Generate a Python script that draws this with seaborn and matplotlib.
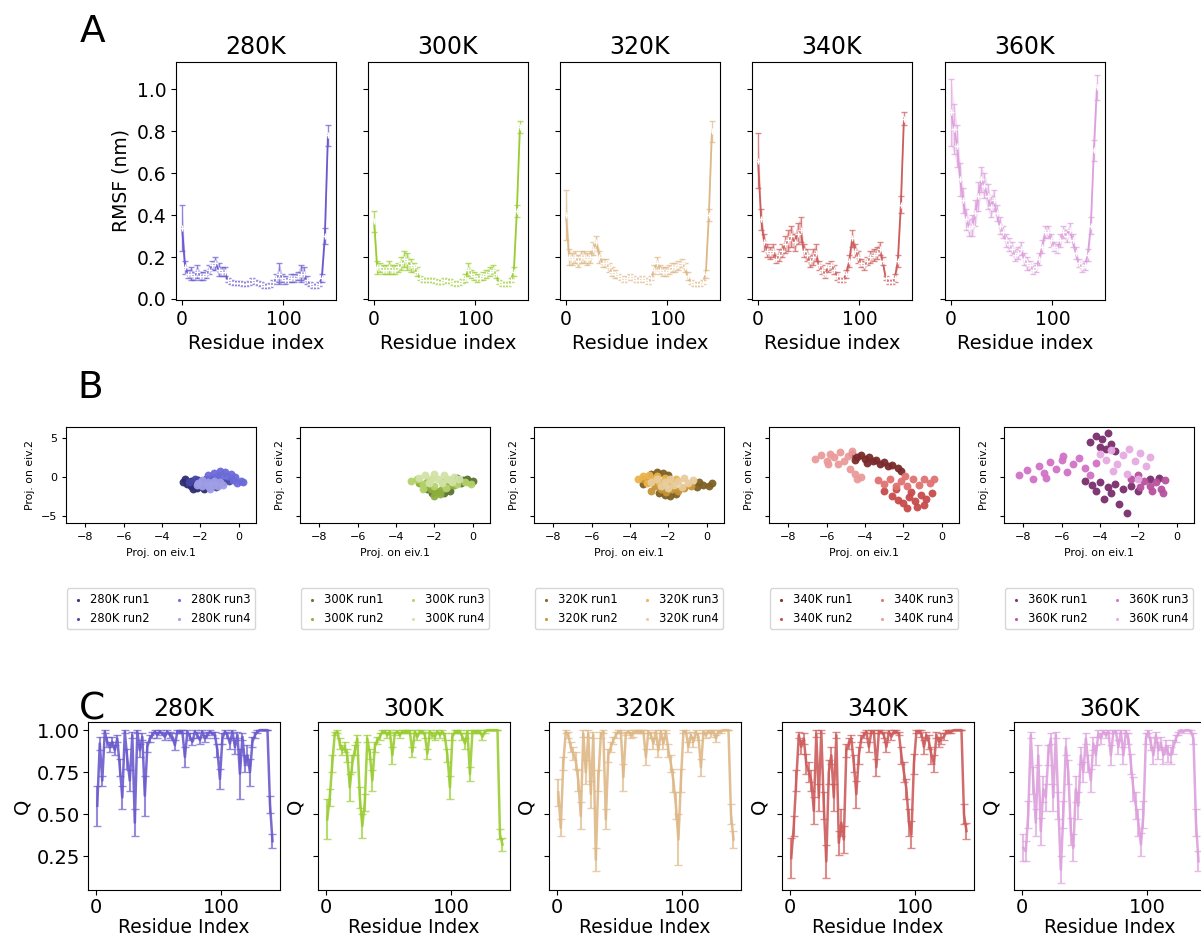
import numpy as np
import matplotlib
matplotlib.use("Agg")
import matplotlib.pyplot as plt
import seaborn as sns

temps = ["280K", "300K", "320K", "340K", "360K"]
base_colors = ["slateblue", "yellowgreen", "burlywood", "indianred", "plum"]
run_colors = [["#2e2e72", "#4646a6", "#6c6ad8", "#a09ee6"],
              ["#5c7232", "#8eae3e", "#b4d26a", "#d2e2a6"],
              ["#7e6024", "#c69434", "#eab44a", "#e8cc9c"],
              ["#7a2a2a", "#c84a4a", "#e07272", "#ea9a9a"],
              ["#7a2e6e", "#b8509e", "#d272c8", "#e6aae2"]]

# ---- panel A: RMSF per residue (every 3rd residue)
res_a = list(range(0, 145, 3))
rmsf_280 = [0.34, 0.15, 0.12, 0.12, 0.11, 0.13, 0.11, 0.11, 0.12, 0.14,
            0.16, 0.17, 0.14, 0.13, 0.13, 0.09, 0.08, 0.075, 0.075, 0.075,
            0.07, 0.07, 0.075, 0.09, 0.08, 0.075, 0.07, 0.06, 0.06, 0.065,
            0.08, 0.10, 0.12, 0.10, 0.09, 0.09, 0.10, 0.10, 0.11, 0.12,
            0.12, 0.09, 0.07, 0.06, 0.06, 0.07, 0.10, 0.30, 0.78]
err_280 = [0.11, 0.03, 0.02, 0.03, 0.02, 0.03, 0.02, 0.02, 0.02, 0.02,
           0.02, 0.03, 0.03, 0.02, 0.02, 0.01, 0.01, 0.01, 0.01, 0.01,
           0.01, 0.01, 0.01, 0.01, 0.01, 0.01, 0.01, 0.01, 0.01, 0.01,
           0.01, 0.02, 0.05, 0.02, 0.02, 0.01, 0.02, 0.02, 0.02, 0.04,
           0.03, 0.02, 0.01, 0.01, 0.01, 0.01, 0.02, 0.04, 0.05]
rmsf_300 = [0.37, 0.15, 0.15, 0.14, 0.14, 0.15, 0.14, 0.14, 0.15, 0.17,
            0.19, 0.18, 0.16, 0.15, 0.13, 0.10, 0.09, 0.09, 0.09, 0.09,
            0.085, 0.08, 0.08, 0.09, 0.085, 0.085, 0.075, 0.07, 0.075, 0.085,
            0.10, 0.14, 0.12, 0.11, 0.10, 0.10, 0.11, 0.12, 0.13, 0.14,
            0.12, 0.08, 0.07, 0.07, 0.07, 0.09, 0.13, 0.42, 0.82]
err_300 = [0.05, 0.03, 0.02, 0.02, 0.02, 0.03, 0.02, 0.02, 0.02, 0.03,
           0.04, 0.04, 0.03, 0.02, 0.02, 0.01, 0.01, 0.01, 0.01, 0.01,
           0.01, 0.01, 0.01, 0.01, 0.01, 0.01, 0.01, 0.01, 0.01, 0.01,
           0.02, 0.03, 0.02, 0.02, 0.02, 0.01, 0.02, 0.02, 0.02, 0.02,
           0.02, 0.01, 0.01, 0.01, 0.01, 0.01, 0.02, 0.03, 0.03]
rmsf_320 = [0.40, 0.20, 0.19, 0.20, 0.18, 0.20, 0.20, 0.19, 0.20, 0.24,
            0.27, 0.20, 0.17, 0.17, 0.15, 0.13, 0.12, 0.11, 0.10, 0.09,
            0.10, 0.11, 0.10, 0.09, 0.09, 0.10, 0.09, 0.08, 0.10, 0.14,
            0.17, 0.14, 0.13, 0.13, 0.14, 0.15, 0.15, 0.16, 0.17, 0.15,
            0.11, 0.08, 0.07, 0.07, 0.07, 0.08, 0.12, 0.40, 0.80]
err_320 = [0.12, 0.04, 0.03, 0.03, 0.03, 0.03, 0.03, 0.03, 0.03, 0.03,
           0.03, 0.03, 0.02, 0.02, 0.02, 0.02, 0.02, 0.01, 0.01, 0.01,
           0.01, 0.01, 0.01, 0.01, 0.01, 0.01, 0.01, 0.01, 0.01, 0.02,
           0.03, 0.02, 0.02, 0.02, 0.02, 0.02, 0.02, 0.02, 0.02, 0.02,
           0.02, 0.01, 0.01, 0.01, 0.01, 0.01, 0.02, 0.03, 0.05]
rmsf_340 = [0.66, 0.38, 0.27, 0.23, 0.22, 0.23, 0.19, 0.21, 0.23, 0.26,
            0.28, 0.30, 0.27, 0.31, 0.33, 0.23, 0.21, 0.18, 0.20, 0.22,
            0.16, 0.14, 0.12, 0.15, 0.16, 0.14, 0.11, 0.09, 0.09, 0.12,
            0.18, 0.29, 0.23, 0.20, 0.17, 0.16, 0.18, 0.20, 0.21, 0.22,
            0.24, 0.18, 0.10, 0.08, 0.08, 0.10, 0.18, 0.45, 0.86]
err_340 = [0.13, 0.05, 0.04, 0.03, 0.03, 0.03, 0.02, 0.03, 0.03, 0.04,
           0.05, 0.05, 0.04, 0.05, 0.06, 0.03, 0.03, 0.03, 0.04, 0.04,
           0.02, 0.02, 0.02, 0.02, 0.02, 0.02, 0.02, 0.01, 0.01, 0.02,
           0.03, 0.04, 0.03, 0.03, 0.02, 0.02, 0.02, 0.03, 0.03, 0.03,
           0.03, 0.02, 0.01, 0.01, 0.01, 0.02, 0.03, 0.04, 0.03]
rmsf_360 = [0.89, 0.81, 0.73, 0.57, 0.47, 0.38, 0.34, 0.35, 0.41, 0.49,
            0.57, 0.54, 0.49, 0.44, 0.47, 0.41, 0.35, 0.32, 0.28, 0.26,
            0.24, 0.21, 0.22, 0.24, 0.19, 0.17, 0.16, 0.14, 0.15, 0.19,
            0.25, 0.32, 0.32, 0.28, 0.25, 0.24, 0.28, 0.32, 0.30, 0.33,
            0.28, 0.22, 0.17, 0.15, 0.16, 0.21, 0.35, 0.71, 1.01]
err_360 = [0.16, 0.12, 0.10, 0.08, 0.06, 0.05, 0.04, 0.05, 0.06, 0.07,
           0.06, 0.06, 0.06, 0.05, 0.05, 0.04, 0.04, 0.03, 0.03, 0.03,
           0.03, 0.03, 0.03, 0.03, 0.03, 0.03, 0.02, 0.02, 0.02, 0.03,
           0.03, 0.03, 0.03, 0.03, 0.02, 0.02, 0.03, 0.03, 0.03, 0.03,
           0.03, 0.03, 0.02, 0.02, 0.02, 0.03, 0.04, 0.05, 0.06]
rmsf_all = [rmsf_280, rmsf_300, rmsf_320, rmsf_340, rmsf_360]
rmsf_err = [err_280, err_300, err_320, err_340, err_360]

# ---- panel B: projections on eigenvectors 1 and 2 (x, y) per run
pts_280 = [
    [(-2.9, -0.6), (-2.7, -0.9), (-2.5, -0.5), (-2.5, -1.2), (-2.3, -0.8), (-2.2, -1.4), (-2.1, -0.4),
     (-2.0, -1.1), (-1.8, -1.5), (-1.6, -1.3), (-2.8, -0.2), (-2.4, -1.5)],
    [(-2.6, -0.7), (-2.3, -0.3), (-2.0, -0.6), (-1.7, -0.2), (-1.4, -0.1), (-1.1, -0.3), (-0.8, -0.6),
     (-0.5, -0.5), (-1.9, -1.0), (-1.2, -1.3)],
    [(-1.6, 0.3), (-1.3, 0.5), (-1.0, 0.7), (-0.7, 0.6), (-0.4, 0.4), (-0.2, 0.0), (0.1, -0.5),
     (-0.3, -0.4), (-0.6, 0.1), (-0.9, 0.2), (-1.2, 0.0), (0.2, -0.7), (-0.1, -0.8)],
    [(-2.1, -0.8), (-1.9, -0.4), (-1.9, -1.2), (-1.6, -0.6), (-1.6, -1.1), (-1.3, -0.5), (-1.3, -1.0),
     (-1.0, -0.7), (-0.8, -1.0), (-2.2, -1.0), (-1.1, -1.2), (-1.5, -1.5)]]
pts_300 = [
    [(-0.8, -0.1), (-0.5, -0.4), (-0.3, -0.3), (-1.0, -0.5), (-0.6, -0.8), (-0.2, -0.6), (0.0, -0.5),
     (-1.8, -1.9), (-1.5, -2.1), (-2.1, -2.0), (-1.2, -1.8), (-2.4, -1.6)],
    [(-2.8, -0.8), (-2.5, -1.3), (-2.2, -1.6), (-1.9, -1.8), (-1.6, -1.6), (-1.3, -1.2), (-1.0, -1.0),
     (-2.4, -0.6), (-1.7, -2.2), (-2.0, -2.4)],
    [(-3.2, -0.5), (-2.9, -0.2), (-2.6, -0.9), (-2.3, -0.4), (-2.0, -1.1), (-1.6, -0.7), (-1.2, -0.4),
     (-0.8, -0.9), (-0.4, -0.7), (-0.1, -0.9), (-1.4, -1.4), (-2.6, -1.6)],
    [(-2.8, -0.1), (-2.5, 0.3), (-2.2, -0.3), (-2.0, 0.4), (-1.8, -0.2), (-1.5, 0.3), (-1.3, -0.3),
     (-1.0, 0.0), (-0.7, -0.3), (-2.3, -0.8), (-1.6, -0.8), (-1.1, -0.6)]]
pts_320 = [
    [(-2.9, 0.4), (-2.6, 0.6), (-2.3, 0.5), (-2.0, 0.2), (-0.4, -0.6), (-0.2, -1.0), (0.1, -1.2),
     (-0.5, -1.3), (-2.2, -2.3), (-1.9, -2.5), (-2.5, -2.0), (-1.6, -2.2), (-3.3, -0.9), (0.3, -0.8)],
    [(-3.0, -0.6), (-2.7, -1.2), (-2.4, -1.6), (-2.1, -1.9), (-1.8, -1.5), (-1.2, -1.4), (-0.8, -1.1),
     (-1.5, -1.8), (-3.3, -0.2), (-2.9, -1.8)],
    [(-3.6, -0.3), (-3.3, 0.1), (-3.0, 0.3), (-2.8, -0.2), (-2.5, -0.6), (-2.2, -0.1), (-1.9, -0.7),
     (-3.1, -0.8), (-2.6, 0.1), (-1.6, -0.2)],
    [(-2.9, -0.7), (-2.6, -0.3), (-2.4, -1.1), (-2.2, -0.6), (-1.9, -0.2), (-1.7, -1.0), (-1.5, -0.5),
     (-1.2, -0.1), (-1.0, -0.8), (-0.7, -0.4), (-2.0, -1.4), (-1.3, -1.3)]]
pts_340 = [
    [(-4.7, 2.9), (-4.4, 2.6), (-4.2, 2.8), (-4.0, 2.3), (-3.8, 2.5), (-3.6, 2.0), (-3.4, 2.2),
     (-3.2, 1.7), (-3.0, 1.9), (-2.8, 1.4), (-2.6, 1.5), (-2.3, 1.1), (-4.5, 2.2), (-3.9, 1.8), (-2.1, 0.8)],
    [(-3.0, -1.8), (-2.6, -2.4), (-2.3, -2.9), (-2.0, -3.4), (-1.7, -2.6), (-1.4, -3.1), (-1.1, -2.3),
     (-0.8, -2.8), (-0.5, -2.1), (-1.3, -3.8), (-1.8, -4.0), (-0.9, -3.6), (-2.4, -1.6), (-1.6, -1.9)],
    [(-3.3, -0.4), (-3.0, -0.9), (-2.7, -0.3), (-2.4, -1.1), (-2.1, -0.5), (-1.8, -1.2), (-1.5, -0.3),
     (-1.2, -1.0), (-0.9, -0.2), (-0.6, -0.8), (-0.4, -0.3), (-1.9, 0.1)],
    [(-6.6, 2.3), (-6.3, 2.8), (-6.0, 2.1), (-5.8, 3.0), (-5.6, 2.5), (-5.3, 3.2), (-5.1, 2.0),
     (-4.9, 2.7), (-4.7, 3.3), (-5.4, 1.6), (-4.8, 1.0), (-4.5, 0.4), (-4.2, 0.0), (-4.4, -0.3), (-5.9, 1.7)]]
pts_360 = [
    [(-4.5, 4.5), (-4.2, 5.3), (-3.9, 4.8), (-3.6, 5.6), (-3.4, 4.2), (-3.7, 3.6), (-3.2, 3.3), (-4.0, 3.9),
     (-4.8, -0.5), (-4.4, -1.0), (-4.0, -0.6), (-3.6, -1.3), (-3.2, -0.9), (-2.8, -1.6), (-2.4, -1.1),
     (-2.0, -1.8), (-3.4, -2.0), (-4.2, -1.8), (-1.4, -0.3), (-0.9, -0.1), (-3.0, -3.5), (-3.8, -2.8),
     (-2.6, -4.6)],
    [(-2.4, -0.2), (-2.0, 0.3), (-1.7, -0.5), (-1.4, -1.1), (-1.1, -0.6), (-0.8, -1.5), (-0.6, -0.4),
     (-1.9, -1.3), (-1.3, -1.8), (-0.7, -2.0)],
    [(-8.2, 0.2), (-7.8, 0.9), (-7.5, -0.2), (-7.2, 1.4), (-6.9, 0.5), (-6.6, 1.9), (-6.3, 1.0),
     (-6.0, 2.2), (-5.7, 0.6), (-5.4, 1.6), (-5.1, 2.4), (-4.8, 1.2), (-4.5, 0.2), (-4.2, 1.8),
     (-6.8, -0.1), (-5.9, 2.7)],
    [(-4.0, 3.0), (-3.7, 2.2), (-3.4, 3.5), (-3.1, 1.6), (-2.8, 2.8), (-2.5, 3.6), (-2.2, 2.1),
     (-1.9, 3.1), (-1.6, 1.4), (-1.4, 2.6), (-3.3, 0.8), (-2.6, 0.4), (-2.0, -0.3)]]
pts_all = [pts_280, pts_300, pts_320, pts_340, pts_360]
run_names = ["run1", "run2", "run3", "run4"]

# ---- panel C: native contacts Q per residue (every 2nd residue)
res_c = list(range(1, 142, 2))
q_280 = [0.55, 0.92, 0.70, 0.99, 0.93, 0.90, 0.93, 0.88, 0.95, 0.78,
         0.60, 0.99, 0.83, 0.70, 0.97, 0.45, 0.99, 0.88, 0.96, 0.61,
         0.90, 0.95, 0.97, 0.99, 0.97, 0.99, 0.98, 0.96, 0.99, 0.97,
         0.96, 0.91, 0.99, 0.99, 0.99, 0.84, 0.99, 0.96, 0.93, 0.99,
         0.97, 0.94, 0.99, 0.95, 0.97, 0.99, 0.98, 0.97, 0.88, 0.71,
         0.95, 0.99, 0.97, 0.92, 0.99, 0.90, 0.97, 0.74, 0.96, 0.80,
         0.85, 0.75, 0.93, 0.97, 0.99, 1.00, 1.00, 1.00, 1.00, 0.56,
         0.34]
qerr_280 = [0.12, 0.04, 0.03, 0.01, 0.03, 0.03, 0.03, 0.03, 0.02, 0.05,
            0.07, 0.01, 0.06, 0.06, 0.02, 0.08, 0.01, 0.04, 0.02, 0.12,
            0.03, 0.02, 0.02, 0.01, 0.02, 0.01, 0.01, 0.02, 0.01, 0.02,
            0.02, 0.03, 0.01, 0.01, 0.01, 0.06, 0.01, 0.02, 0.02, 0.01,
            0.02, 0.02, 0.01, 0.02, 0.02, 0.01, 0.01, 0.02, 0.04, 0.06,
            0.03, 0.01, 0.02, 0.03, 0.01, 0.04, 0.02, 0.15, 0.02, 0.05,
            0.06, 0.08, 0.03, 0.02, 0.01, 0.00, 0.00, 0.00, 0.00, 0.05,
            0.04]
q_300 = [0.47, 0.60, 0.80, 0.98, 0.99, 0.92, 0.88, 0.90, 0.85, 0.66,
         0.80, 0.88, 0.95, 0.60, 0.43, 0.57, 0.95, 0.86, 0.70, 0.90,
         0.94, 0.96, 0.99, 0.99, 0.97, 0.99, 0.85, 0.98, 0.99, 0.97,
         0.99, 0.99, 0.99, 0.99, 0.87, 0.99, 0.96, 0.99, 0.99, 0.97,
         0.86, 0.99, 0.97, 0.96, 0.99, 0.97, 0.99, 0.96, 0.85, 0.66,
         0.96, 0.99, 0.99, 0.99, 0.96, 0.92, 0.99, 0.74, 0.99, 0.99,
         0.99, 0.99, 0.96, 0.99, 1.00, 1.00, 1.00, 1.00, 1.00, 0.38,
         0.32]
qerr_300 = [0.12, 0.05, 0.05, 0.01, 0.01, 0.03, 0.03, 0.03, 0.04, 0.08,
            0.05, 0.03, 0.02, 0.06, 0.07, 0.05, 0.02, 0.03, 0.06, 0.03,
            0.02, 0.02, 0.01, 0.01, 0.02, 0.01, 0.05, 0.01, 0.01, 0.02,
            0.01, 0.01, 0.01, 0.01, 0.03, 0.01, 0.02, 0.01, 0.01, 0.02,
            0.03, 0.01, 0.02, 0.02, 0.01, 0.02, 0.01, 0.02, 0.04, 0.07,
            0.02, 0.01, 0.01, 0.01, 0.02, 0.03, 0.01, 0.04, 0.01, 0.01,
            0.01, 0.01, 0.02, 0.01, 0.00, 0.00, 0.00, 0.00, 0.00, 0.03,
            0.04]
q_320 = [0.63, 0.42, 0.80, 0.99, 0.97, 0.90, 0.86, 0.82, 0.70, 0.49,
         0.98, 0.75, 0.98, 0.62, 0.97, 0.23, 0.70, 0.97, 0.99, 0.47,
         0.85, 0.90, 0.94, 0.97, 0.99, 0.99, 0.72, 0.98, 0.99, 0.97,
         0.98, 0.99, 0.99, 0.99, 0.99, 0.84, 0.99, 0.97, 0.92, 0.99,
         0.88, 0.99, 0.92, 0.99, 0.88, 0.80, 0.70, 0.55, 0.35, 0.70,
         0.99, 0.99, 0.90, 0.97, 0.93, 0.99, 0.96, 0.78, 0.99, 0.97,
         0.99, 0.98, 0.99, 0.95, 0.99, 0.99, 1.00, 1.00, 1.00, 0.50,
         0.35]
qerr_320 = [0.08, 0.05, 0.04, 0.01, 0.02, 0.03, 0.04, 0.05, 0.06, 0.08,
            0.02, 0.07, 0.02, 0.08, 0.02, 0.07, 0.06, 0.02, 0.01, 0.06,
            0.04, 0.03, 0.02, 0.02, 0.01, 0.01, 0.08, 0.01, 0.01, 0.02,
            0.02, 0.01, 0.01, 0.01, 0.01, 0.05, 0.01, 0.02, 0.03, 0.01,
            0.04, 0.01, 0.03, 0.01, 0.04, 0.05, 0.07, 0.08, 0.15, 0.07,
            0.01, 0.01, 0.03, 0.02, 0.03, 0.01, 0.02, 0.05, 0.01, 0.02,
            0.01, 0.02, 0.01, 0.02, 0.01, 0.01, 0.00, 0.00, 0.00, 0.06,
            0.05]
q_340 = [0.24, 0.43, 0.70, 0.97, 0.90, 0.95, 0.80, 0.75, 0.70, 0.52,
         0.98, 0.60, 0.99, 0.55, 0.22, 0.75, 0.85, 0.60, 0.97, 0.33,
         0.45, 0.35, 0.88, 0.92, 0.95, 0.80, 0.62, 0.85, 0.95, 0.97,
         0.99, 0.90, 0.99, 0.99, 0.78, 0.99, 0.99, 0.97, 0.90, 0.99,
         0.96, 0.99, 0.99, 0.98, 0.85, 0.75, 0.65, 0.45, 0.38, 0.80,
         0.99, 0.99, 0.98, 0.90, 0.97, 0.93, 0.85, 0.80, 0.97, 0.93,
         0.95, 0.96, 0.99, 0.99, 0.99, 1.00, 1.00, 1.00, 1.00, 0.50,
         0.40]
qerr_340 = [0.12, 0.06, 0.06, 0.02, 0.04, 0.03, 0.06, 0.06, 0.06, 0.08,
            0.02, 0.08, 0.01, 0.08, 0.10, 0.07, 0.05, 0.08, 0.02, 0.07,
            0.08, 0.08, 0.04, 0.03, 0.02, 0.05, 0.08, 0.05, 0.02, 0.02,
            0.01, 0.03, 0.01, 0.01, 0.05, 0.01, 0.01, 0.02, 0.03, 0.01,
            0.02, 0.01, 0.01, 0.01, 0.05, 0.06, 0.06, 0.08, 0.08, 0.06,
            0.01, 0.01, 0.02, 0.04, 0.02, 0.04, 0.05, 0.05, 0.02, 0.03,
            0.03, 0.02, 0.01, 0.01, 0.01, 0.00, 0.00, 0.00, 0.00, 0.06,
            0.05]
q_360 = [0.30, 0.28, 0.50, 0.97, 0.70, 0.45, 0.85, 0.40, 0.65, 0.60,
         0.85, 0.95, 0.60, 0.97, 0.55, 0.17, 0.50, 0.90, 0.75, 0.40,
         0.30, 0.65, 0.55, 0.85, 0.75, 0.95, 0.80, 0.70, 0.92, 0.85,
         0.98, 0.95, 0.99, 0.97, 0.99, 0.85, 0.99, 0.99, 0.90, 0.99,
         0.85, 0.99, 0.95, 0.80, 0.65, 0.55, 0.45, 0.32, 0.50, 0.95,
         0.99, 0.92, 0.85, 0.97, 0.88, 0.92, 0.85, 0.90, 0.86, 0.85,
         0.90, 0.95, 0.98, 1.00, 0.99, 1.00, 1.00, 0.99, 0.95, 0.45,
         0.22]
qerr_360 = [0.08, 0.06, 0.08, 0.02, 0.08, 0.08, 0.06, 0.08, 0.08, 0.08,
            0.06, 0.03, 0.08, 0.02, 0.08, 0.08, 0.08, 0.05, 0.07, 0.08,
            0.08, 0.08, 0.08, 0.05, 0.06, 0.03, 0.05, 0.07, 0.04, 0.06,
            0.02, 0.03, 0.01, 0.02, 0.01, 0.06, 0.01, 0.01, 0.04, 0.01,
            0.05, 0.01, 0.03, 0.06, 0.07, 0.08, 0.08, 0.07, 0.08, 0.03,
            0.01, 0.04, 0.05, 0.02, 0.05, 0.04, 0.05, 0.04, 0.05, 0.05,
            0.04, 0.02, 0.01, 0.00, 0.01, 0.00, 0.00, 0.01, 0.03, 0.08,
            0.06]
q_all = [q_280, q_300, q_320, q_340, q_360]
q_err = [qerr_280, qerr_300, qerr_320, qerr_340, qerr_360]

W, H = 1201, 940
fig = plt.figure(figsize=(W / 100, H / 100), dpi=100)


def box(left, top, width, height):
    return fig.add_axes([left / W, 1 - (top + height) / H, width / W, height / H])


# row A
a_left = [176, 368, 560, 752, 945]
for i, t in enumerate(temps):
    ax = box(a_left[i], 62, 160, 238)
    c = base_colors[i]
    y = np.array(rmsf_all[i])
    e = np.array(rmsf_err[i])
    ax.fill_between(res_a, y - e, y + e, color=c, alpha=0.3, lw=0)
    ax.errorbar(res_a, y, yerr=e, fmt="none", ecolor=c, elinewidth=1, capsize=2, alpha=0.7)
    sns.lineplot(x=res_a, y=y, ax=ax, color=c, lw=1.3, marker="+", markersize=4, mew=1)
    ax.set_xlim(-6, 152)
    ax.set_ylim(-0.005, 1.13)
    ax.set_yticks([0.0, 0.2, 0.4, 0.6, 0.8, 1.0])
    ax.set_xticks([0, 100])
    ax.set_title(t, fontsize=17)
    ax.set_xlabel("Residue index", fontsize=14)
    ax.tick_params(labelsize=13.5)
    if i == 0:
        ax.set_ylabel("RMSF (nm)", fontsize=13.5)
    else:
        ax.set_ylabel("")
        ax.set_yticklabels([])

# row B
b_left = [66, 300, 534, 769, 1004]
for i, t in enumerate(temps):
    ax = box(b_left[i], 427, 190, 96)
    for r in range(4):
        xs = [p[0] for p in pts_all[i][r]]
        ys = [p[1] for p in pts_all[i][r]]
        sns.scatterplot(x=xs, y=ys, ax=ax, color=run_colors[i][r], s=32, linewidth=0,
                        alpha=0.95, label=f"{t} {run_names[r]}")
    ax.set_xlim(-9.0, 0.9)
    ax.set_ylim(-5.9, 6.4)
    ax.set_xticks([-8, -6, -4, -2, 0])
    ax.set_yticks([-5, 0, 5])
    ax.tick_params(labelsize=8, length=3)
    ax.set_xlabel("Proj. on eiv.1", fontsize=7.8)
    ax.set_ylabel("Proj. on eiv.2", fontsize=7.8)
    if i > 0:
        ax.set_yticklabels([])
    ax.legend(loc="upper center", bbox_to_anchor=(0.5, -0.62), ncol=2, fontsize=8.3,
              markerscale=0.4, handletextpad=0.4, columnspacing=2.0, handlelength=1.2)

# row C
c_left = [88, 318, 549, 782, 1014]
for i, t in enumerate(temps):
    ax = box(c_left[i], 722, 192, 168)
    c = base_colors[i]
    y = np.array(q_all[i])
    e = np.array(q_err[i])
    ax.errorbar(res_c, y, yerr=e, fmt="none", ecolor=c, elinewidth=1.5, capsize=3, alpha=0.7)
    sns.lineplot(x=res_c, y=y, ax=ax, color=c, lw=1.8, alpha=0.9)
    ax.set_xlim(-6.4, 147)
    ax.set_ylim(0.05, 1.048)
    ax.set_yticks([0.25, 0.50, 0.75, 1.00])
    ax.set_xticks([0, 100])
    ax.set_title(t, fontsize=17, pad=4)
    ax.set_xlabel("Residue Index", fontsize=13.5, labelpad=1)
    ax.set_ylabel("Q", fontsize=14)
    ax.tick_params(labelsize=14, pad=2)
    if i > 0:
        ax.set_yticklabels([])

fig.text(80 / W, 1 - 42 / H, "A", fontsize=27)
fig.text(77 / W, 1 - 398 / H, "B", fontsize=27)
fig.text(79 / W, 1 - 719 / H, "C", fontsize=27)

fig.savefig("out.png", dpi=100)
